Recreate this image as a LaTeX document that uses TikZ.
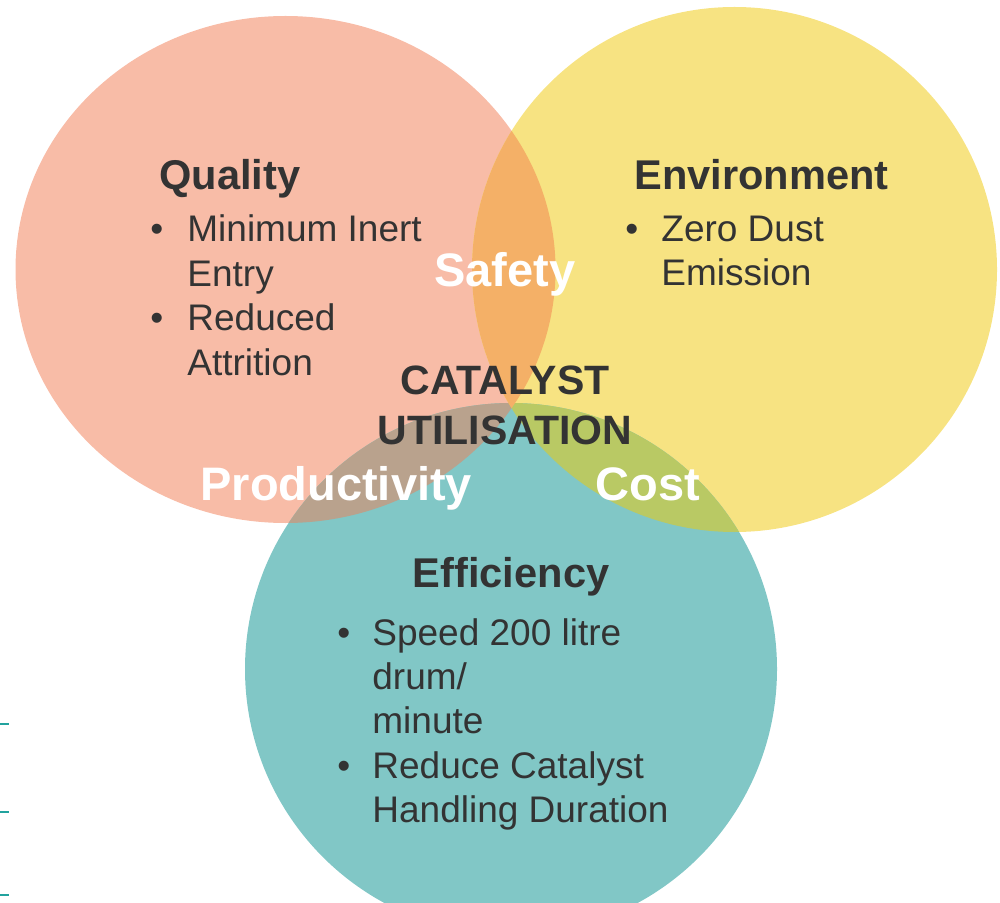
\documentclass[tikz,border=0pt]{standalone}
\usepackage{fontspec}
\setmainfont{Liberation Sans}
\usepackage{tikz}
\usetikzlibrary{positioning}

\definecolor{qualityfill}{HTML}{F8BCA7}
\definecolor{envfill}{HTML}{F7E382}
\definecolor{efffill}{HTML}{81C7C6}
\definecolor{safetyfill}{HTML}{F4B067}
\definecolor{prodfill}{HTML}{B9A28D}
\definecolor{costfill}{HTML}{B9C964}
\definecolor{ink}{HTML}{333333}
\definecolor{tick}{HTML}{22A39E}

\begin{document}
\begin{tikzpicture}[
    x=0.5pt, y=-0.5pt,
    line/.style={anchor=base west, inner sep=0pt, text=ink,
                 font=\fontsize{18.5}{22}\selectfont},
    dot/.style={anchor=base west, inner sep=0pt, text=ink,
                font=\fontsize{18.5}{22}\selectfont},
    head/.style={anchor=base west, inner sep=0pt, text=ink,
                 font=\bfseries\fontsize{20.8}{25}\selectfont},
    lab/.style={anchor=base west, inner sep=0pt, text=white,
                font=\bfseries\fontsize{23.5}{28}\selectfont},
    core/.style={anchor=base, inner sep=0pt, text=ink,
                 font=\bfseries\fontsize{20.5}{25}\selectfont}
]
\useasboundingbox (0,0) rectangle (1000,903);

% =========================
% 1) THREE CIRCLES
% =========================
\coordinate (Qc) at (285.5,269.5);
\coordinate (Ec) at (734.5,269.5);
\coordinate (Fc) at (511,669);

\fill[qualityfill] (Qc) ellipse [x radius=270, y radius=253.5];
\fill[envfill]     (Ec) circle [radius=262.5];
\fill[efffill]     (Fc) circle [radius=266];

% overlaps
\begin{scope}
  \clip (Qc) ellipse [x radius=270, y radius=253.5];
  \fill[prodfill] (Fc) circle [radius=266];
\end{scope}
\begin{scope}
  \clip (Ec) circle [radius=262.5];
  \fill[costfill] (Fc) circle [radius=266];
\end{scope}
\begin{scope}
  \clip (Qc) ellipse [x radius=270, y radius=253.5];
  \fill[safetyfill] (Ec) circle [radius=262.5];
\end{scope}

% small marks at the left edge
\draw[tick, line width=1pt] (0,724) -- (9,724);
\draw[tick, line width=1pt] (0,812) -- (9,812);
\draw[tick, line width=1pt] (0,895) -- (9,895);

% =========================
% 2) QUALITY
% =========================
\node[head] (Q)  at (159,190) {Quality};
\node[dot]  (Qb1) at (150,242) {\textbullet};
\node[line] (Q1) at (187,242) {Minimum Inert};
\node[line] (Q2) at (187,287) {Entry};
\node[dot]  (Qb2) at (150,331) {\textbullet};
\node[line] (Q3) at (187,331) {Reduced};
\node[line] (Q4) at (187,375) {Attrition};

% =========================
% 3) ENVIRONMENT
% =========================
\node[head] (E)  at (634,190) {Environment};
\node[dot]  (Eb1) at (625,242) {\textbullet};
\node[line] (E1) at (661,242) {Zero Dust};
\node[line] (E2) at (661,286) {Emission};

% =========================
% 4) EFFICIENCY
% =========================
\node[head, anchor=base] (F) at (511,587) {Efficiency};
\node[dot]  (Fb1) at (337,645) {\textbullet};
\node[line] (F1) at (372,645) {Speed 200 litre};
\node[line] (F2) at (372,689) {drum/};
\node[line] (F3) at (372,733) {minute};
\node[dot]  (Fb2) at (337,778) {\textbullet};
\node[line] (F4) at (372,778) {Reduce Catalyst};
\node[line] (F5) at (372,822) {Handling Duration};

% =========================
% 5) OVERLAPS AND CENTRE
% =========================
\node[lab] (S) at (434,287) {Safety};
\node[lab] (P) at (200,500) {Productivity};
\node[lab] (C) at (595,500) {Cost};

\node[core] (U1) at (505,394) {CATALYST};
\node[core] (U2) at (505,444) {UTILISATION};

\end{tikzpicture}
\end{document}
